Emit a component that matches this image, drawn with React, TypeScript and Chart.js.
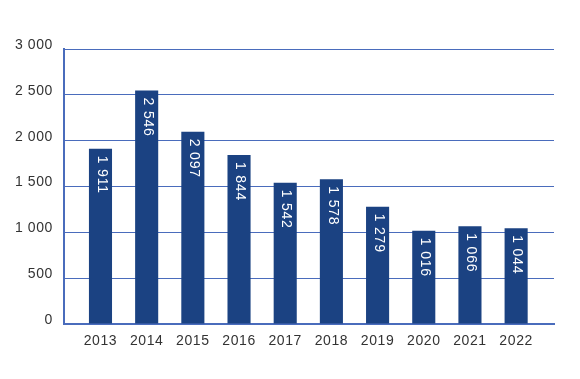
import React, { useEffect, useRef } from "react";
import { Chart, registerables } from "chart.js";

Chart.register(...registerables);

const years = ["2013", "2014", "2015", "2016", "2017", "2018", "2019", "2020", "2021", "2022"];
const values = [1911, 2546, 2097, 1844, 1542, 1578, 1279, 1016, 1066, 1044];
const yTicks = [0, 500, 1000, 1500, 2000, 2500, 3000];

const BAR = "#1b4282";
const GRID = "#4a6cbc";
const TEXT = "#333333";
const FONT = "'Liberation Sans', Arial, sans-serif";

const fmt = (v: number) => String(v).replace(/\B(?=(\d{3})+(?!\d))/g, " ");

const spacing = {
  id: "spacing",
  beforeLayout(chart: any) {
    chart.ctx.letterSpacing = "0.6px";
  },
  beforeDraw(chart: any) {
    chart.ctx.letterSpacing = "0.6px";
  },
};

const barLabels = {
  id: "barLabels",
  afterDatasetsDraw(chart: any) {
    const ctx = chart.ctx;
    const meta = chart.getDatasetMeta(0);
    ctx.save();
    ctx.fillStyle = "#ffffff";
    ctx.font = `14px ${FONT}`;
    ctx.letterSpacing = "0.8px";
    ctx.textAlign = "left";
    ctx.textBaseline = "middle";
    meta.data.forEach((el: any, i: number) => {
      ctx.save();
      ctx.translate(el.x + 1, el.y + 7);
      ctx.rotate(Math.PI / 2);
      ctx.fillText(fmt(values[i]), 0, 0);
      ctx.restore();
    });
    ctx.restore();
  },
};

export default function App() {
  const ref = useRef<HTMLCanvasElement>(null);
  useEffect(() => {
    if (!ref.current) return;
    const chart = new Chart(ref.current, {
      type: "bar",
      data: {
        datasets: [
          {
            data: values.map((v, i) => ({ x: i, y: v })),
            backgroundColor: BAR,
            barPercentage: 0.5,
            categoryPercentage: 1,
          },
        ],
      },
      options: {
        animation: false,
        responsive: false,
        maintainAspectRatio: false,
        layout: { padding: { left: 0, right: 26, top: 49, bottom: 0 } },
        plugins: { legend: { display: false }, tooltip: { enabled: false } },
        scales: {
          x: {
            type: "linear",
            offset: false,
            min: -0.79,
            max: 9.82,
            grid: { display: false },
            border: { display: true, color: GRID, width: 2 },
            afterBuildTicks: (scale: any) => {
              scale.ticks = years.map((_, i) => ({ value: i }));
            },
            afterFit: (scale: any) => {
              scale.height = 55;
            },
            ticks: {
              autoSkip: false,
              maxRotation: 0,
              padding: 1,
              color: TEXT,
              font: { family: FONT, size: 14 },
              callback: (v: any) => years[Math.round(Number(v))] ?? "",
            },
          },
          y: {
            min: 0,
            max: 3000,
            afterBuildTicks: (scale: any) => {
              scale.ticks = yTicks.map((v) => ({ value: v }));
            },
            afterFit: (scale: any) => {
              scale.width = 64;
            },
            grid: { color: GRID, lineWidth: 1, drawTicks: false },
            border: { display: true, color: GRID, width: 2 },
            ticks: {
              padding: 11,
              labelOffset: -4,
              color: TEXT,
              font: { family: FONT, size: 14 },
              callback: (v: any) => fmt(Number(v)),
            },
          },
        },
      },
      plugins: [spacing, barLabels],
    });
    return () => chart.destroy();
  }, []);
  return (
    <div style={{ position: "absolute", left: 0, top: 0, width: 580, height: 379, background: "#fff" }}>
      <canvas ref={ref} width={580} height={379} style={{ width: 580, height: 379 }} />
    </div>
  );
}
